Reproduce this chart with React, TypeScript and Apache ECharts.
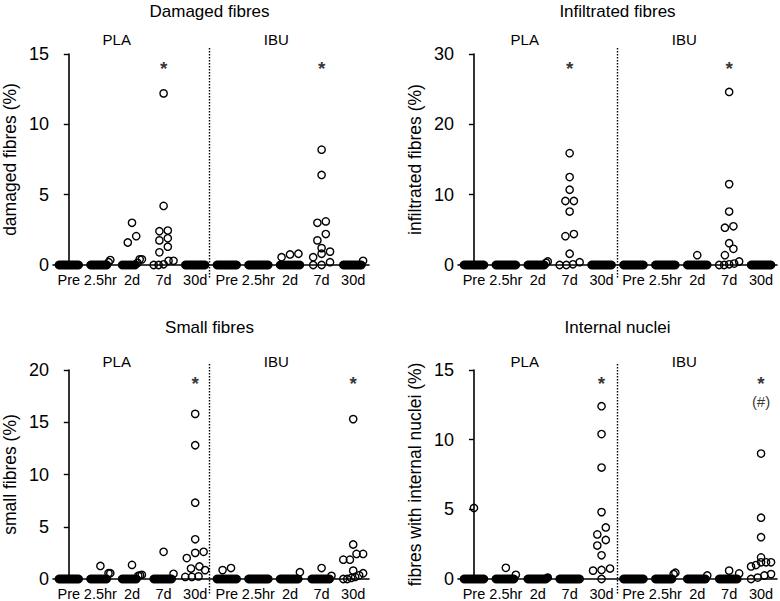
import React, { useEffect, useRef } from "react";
import * as echarts from "echarts";

const categories = ["Pre", "2.5hr", "2d", "7d", "30d", "Pre", "2.5hr", "2d", "7d", "30d"];
const groupLabels = ["PLA", "IBU"];

// Damaged fibres (%)
const damagedPLA = [
  [0, 0, 0, 0, 0, 0, 0, 0, 0, 0, 0, 0, 0],
  [0.35, 0.2, 0, 0, 0, 0, 0, 0, 0, 0, 0, 0, 0],
  [3.0, 2.05, 1.6, 0.4, 0.4, 0.15, 0, 0, 0, 0, 0, 0, 0],
  [12.2, 4.2, 2.45, 2.4, 1.9, 1.75, 1.3, 0.9, 0.3, 0.3, 0.05, 0, 0],
  [0, 0, 0, 0, 0, 0, 0, 0, 0, 0, 0, 0, 0],
];
const damagedIBU = [
  [0, 0, 0, 0, 0, 0, 0, 0, 0, 0, 0, 0, 0],
  [0, 0, 0, 0, 0, 0, 0, 0, 0, 0, 0, 0, 0],
  [0.8, 0.75, 0.55, 0, 0, 0, 0, 0, 0, 0, 0, 0, 0],
  [8.2, 6.4, 3.1, 3.0, 2.2, 1.75, 1.2, 0.95, 0.8, 0.55, 0.2, 0, 0],
  [0.3, 0, 0, 0, 0, 0, 0, 0, 0, 0, 0, 0, 0],
];

// Infiltrated fibres (%)
const infiltratedPLA = [
  [0, 0, 0, 0, 0, 0, 0, 0, 0, 0, 0, 0, 0],
  [0, 0, 0, 0, 0, 0, 0, 0, 0, 0, 0, 0, 0],
  [0.5, 0.3, 0, 0, 0, 0, 0, 0, 0, 0, 0, 0, 0],
  [15.9, 12.5, 10.7, 9.1, 9.1, 7.6, 4.4, 4.1, 1.6, 0.4, 0.1, 0, 0],
  [0, 0, 0, 0, 0, 0, 0, 0, 0, 0, 0, 0, 0],
];
const infiltratedIBU = [
  [0, 0, 0, 0, 0, 0, 0, 0, 0, 0, 0, 0, 0],
  [0, 0, 0, 0, 0, 0, 0, 0, 0, 0, 0, 0, 0],
  [1.4, 0, 0, 0, 0, 0, 0, 0, 0, 0, 0, 0, 0],
  [24.6, 11.5, 7.6, 5.5, 5.3, 3.1, 2.3, 1.4, 0.5, 0.2, 0.1, 0, 0],
  [0, 0, 0, 0, 0, 0, 0, 0, 0, 0, 0, 0, 0],
];

// Small fibres (%)
const smallPLA = [
  [0, 0, 0, 0, 0, 0, 0, 0, 0, 0, 0, 0, 0],
  [1.25, 0.55, 0.55, 0, 0, 0, 0, 0, 0, 0, 0, 0, 0],
  [1.35, 0.4, 0.35, 0.3, 0, 0, 0, 0, 0, 0, 0, 0, 0],
  [2.6, 0.5, 0, 0, 0, 0, 0, 0, 0, 0, 0, 0, 0],
  [15.8, 12.8, 7.3, 3.8, 2.6, 2.5, 2.0, 1.2, 1.0, 0.85, 0.25, 0.2, 0.2],
];
const smallIBU = [
  [1.05, 0.85, 0, 0, 0, 0, 0, 0, 0, 0, 0, 0, 0],
  [0, 0, 0, 0, 0, 0, 0, 0, 0, 0, 0, 0, 0],
  [0.65, 0, 0, 0, 0, 0, 0, 0, 0, 0, 0, 0, 0],
  [1.05, 0.3, 0, 0, 0, 0, 0, 0, 0, 0, 0, 0, 0],
  [15.3, 3.3, 2.4, 2.4, 1.85, 1.85, 0.8, 0.55, 0.35, 0.2, 0.1, 0, 0],
];

// Fibres with internal nuclei (%)
const nucleiPLA = [
  [5.1, 0, 0, 0, 0, 0, 0, 0, 0, 0, 0, 0, 0],
  [0.8, 0.3, 0, 0, 0, 0, 0, 0, 0, 0, 0, 0, 0],
  [0.1, 0, 0, 0, 0, 0, 0, 0, 0, 0, 0, 0, 0],
  [0, 0, 0, 0, 0, 0, 0, 0, 0, 0, 0, 0, 0],
  [12.4, 10.4, 8.0, 4.8, 3.7, 3.2, 2.8, 2.4, 1.7, 0.75, 0.65, 0.6, 0],
];
const nucleiIBU = [
  [0, 0, 0, 0, 0, 0, 0, 0, 0, 0, 0, 0, 0],
  [0.45, 0.35, 0, 0, 0, 0, 0, 0, 0, 0, 0, 0, 0],
  [0.25, 0, 0, 0, 0, 0, 0, 0, 0, 0, 0, 0, 0],
  [0.6, 0.4, 0, 0, 0, 0, 0, 0, 0, 0, 0, 0, 0],
  [9.0, 4.4, 3.0, 1.55, 1.2, 1.2, 1.2, 1.0, 0.9, 0.35, 0.25, 0.1, 0],
];

// significance markers: [category index, y value, text]
const damagedMarks: [number, number, string][] = [[3, 14.0, "*"], [8, 14.0, "*"]];
const infiltratedMarks: [number, number, string][] = [[3, 28.0, "*"], [8, 28.0, "*"]];
const smallMarks: [number, number, string][] = [[4, 18.7, "*"], [9, 18.7, "*"]];
const nucleiMarks: [number, number, string][] = [[4, 14.0, "*"], [9, 14.0, "*"], [9, 12.75, "(#)"]];

const FONT = "Liberation Sans, Arial, Helvetica, sans-serif";
const DIAM = 8.5;
const HALF_W = 10;

// simple swarm layout: returns [offset in category units, dense flag]
function swarmLayout(values: number[], pxPerUnit: number, pxPerCat: number): [number, boolean][] {
  const idx = values.map((_, i) => i).sort((a, b) => values[a] - values[b]);
  const out: [number, boolean][] = values.map(() => [0, false]);
  let row: number[] = [];
  let start = 0;
  const flush = () => {
    const k = row.length;
    if (!k) return;
    const s = k > 1 ? Math.min(DIAM, (2 * HALF_W) / (k - 1)) : 0;
    row.forEach((id, j) => {
      const atBase = (values[id] - start) * pxPerUnit < 1.5;
      out[id] = [((j - (k - 1) / 2) * s) / pxPerCat, k > 1 && s < 3 && atBase];
    });
    row = [];
  };
  for (const id of idx) {
    if (row.length && (values[id] - start) * pxPerUnit >= DIAM * 0.85) flush();
    if (!row.length) start = values[id];
    row.push(id);
  }
  flush();
  return out;
}

const panels = [
  { left: 50, top: 54, width: 319, height: 211, title: "Damaged fibres", yName: "damaged fibres (%)", yMax: 15, interval: 5, pla: damagedPLA, ibu: damagedIBU, marks: damagedMarks, titleY: 11, groupY: 39 },
  { left: 458, top: 54, width: 319, height: 211, title: "Infiltrated fibres", yName: "infiltrated fibres (%)", yMax: 30, interval: 10, pla: infiltratedPLA, ibu: infiltratedIBU, marks: infiltratedMarks, titleY: 11, groupY: 39 },
  { left: 50, top: 370, width: 319, height: 211, title: "Small fibres", yName: "small fibres (%)", yMax: 20, interval: 5, pla: smallPLA, ibu: smallIBU, marks: smallMarks, titleY: 327, groupY: 361 },
  { left: 458, top: 370, width: 319, height: 211, title: "Internal nuclei", yName: "fibres with internal nuclei (%)", yMax: 15, interval: 5, pla: nucleiPLA, ibu: nucleiIBU, marks: nucleiMarks, titleY: 327, groupY: 361 },
];

export default function App() {
  const ref = useRef<HTMLDivElement>(null);
  useEffect(() => {
    document.body.style.margin = "0";
    if (!ref.current) return;
    const chart = echarts.init(ref.current, null, { renderer: "svg" });

    const grid: any[] = [];
    const xAxis: any[] = [];
    const yAxis: any[] = [];
    const series: any[] = [];
    const graphic: any[] = [];

    panels.forEach((p, i) => {
      grid.push({ left: p.left, top: p.top, width: p.width, height: p.height, containLabel: false });
      xAxis.push({
        type: "category",
        gridIndex: i,
        data: categories,
        axisLine: { lineStyle: { color: "#000", width: 1.6 } },
        axisTick: { alignWithLabel: true, length: 4, lineStyle: { color: "#000", width: 1.2 } },
        axisLabel: { color: "#000", fontSize: 14.5, fontFamily: FONT, margin: 7, interval: 0 },
        z: 1,
      });
      xAxis.push({ type: "value", gridIndex: i, min: -0.5, max: 9.5, show: false });
      yAxis.push({
        type: "value",
        gridIndex: i,
        min: 0,
        max: p.yMax,
        interval: p.interval,
        name: p.yName,
        nameLocation: "middle",
        nameRotate: 90,
        nameGap: 34,
        nameTextStyle: { color: "#000", fontSize: 17.5, fontFamily: FONT },
        axisLine: { show: true, lineStyle: { color: "#000", width: 1.6 } },
        axisTick: { show: true, length: 5, lineStyle: { color: "#000", width: 1.4 } },
        axisLabel: { color: "#000", fontSize: 18, fontFamily: FONT, margin: 4 },
        splitLine: { show: false },
      });

      const pxPerUnit = p.height / p.yMax;
      const pxPerCat = p.width / categories.length;
      const open: number[][] = [];
      const dense: number[][] = [];
      const groups = [...p.pla, ...p.ibu];
      groups.forEach((vals, c) => {
        const lay = swarmLayout(vals, pxPerUnit, pxPerCat);
        vals.forEach((v, k) => (lay[k][1] ? dense : open).push([c + lay[k][0], v]));
      });
      series.push({
        type: "scatter",
        xAxisIndex: 2 * i + 1,
        yAxisIndex: i,
        data: dense,
        symbol: "circle",
        symbolSize: DIAM - 1.2,
        itemStyle: { color: "#000", borderColor: "#000", borderWidth: 1.4, opacity: 1 },
        emphasis: { disabled: true },
        z: 3,
      });
      series.push({
        type: "scatter",
        xAxisIndex: 2 * i + 1,
        yAxisIndex: i,
        data: open,
        symbol: "circle",
        symbolSize: DIAM - 1.2,
        itemStyle: { color: "rgba(255,255,255,0)", borderColor: "#000", borderWidth: 1.4, opacity: 1 },
        emphasis: { disabled: true },
        z: 3,
      });
      series.push({
        type: "scatter",
        xAxisIndex: 2 * i + 1,
        yAxisIndex: i,
        data: p.marks.map((m) => ({
          value: [m[0], m[1]],
          label: m[2] === "*" ? { formatter: m[2], fontSize: 19, fontWeight: "bold" } : { formatter: m[2], fontSize: 15 },
        })),
        symbolSize: 0,
        label: { show: true, position: "inside", color: "#000", fontFamily: FONT },
        emphasis: { disabled: true },
        z: 4,
      });

      const midX = p.left + p.width / 2;
      graphic.push({
        type: "line",
        shape: { x1: midX, y1: p.top - 6, x2: midX, y2: p.top + p.height + 14 },
        style: { stroke: "#000", lineWidth: 1.4, lineDash: [1.5, 1.5] },
        z: 10,
      });
      graphic.push({
        type: "text",
        x: midX,
        y: p.titleY,
        style: { text: p.title, fill: "#000", font: `17px ${FONT}`, textAlign: "center", textVerticalAlign: "middle" },
      });
      groupLabels.forEach((g, gi) => {
        graphic.push({
          type: "text",
          x: p.left + p.width * (0.25 + 0.5 * gi) - 13,
          y: p.groupY,
          style: { text: g, fill: "#000", font: `15px ${FONT}`, textAlign: "center", textVerticalAlign: "middle" },
        });
      });
    });

    chart.setOption({
      animation: false,
      backgroundColor: "#fff",
      textStyle: { fontFamily: FONT },
      grid,
      xAxis,
      yAxis,
      series,
      graphic,
    });
    return () => chart.dispose();
  }, []);
  return <div ref={ref} style={{ width: 780, height: 601 }} />;
}
